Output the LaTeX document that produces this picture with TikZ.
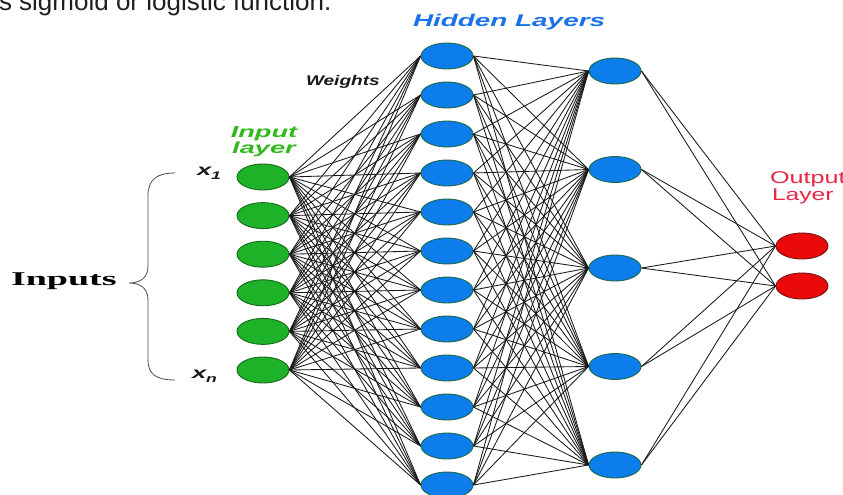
\documentclass[tikz,border=0pt]{standalone}
\usepackage{fontspec}
\setmainfont{Liberation Sans}
\newfontfamily\serifbold{Liberation Serif}
\usetikzlibrary{shapes.geometric}
\definecolor{ingreen}{RGB}{30,178,40}
\definecolor{ingreendark}{RGB}{20,105,25}
\definecolor{hidblue}{RGB}{12,125,235}
\definecolor{hidedge}{RGB}{30,105,70}
\definecolor{outred}{RGB}{235,10,10}
\definecolor{outreddark}{RGB}{115,20,20}
\definecolor{hidtext}{RGB}{25,115,230}
\definecolor{intext}{RGB}{50,185,30}
\definecolor{outtext}{RGB}{230,40,70}
\begin{document}
\begin{tikzpicture}[x=1pt,y=-1pt,
  neuron/.style={ellipse, minimum width=52pt, minimum height=26pt, inner sep=0pt, line width=0.9pt},
  innode/.style={neuron, fill=ingreen, draw=ingreendark},
  hidnode/.style={neuron, fill=hidblue, draw=hidedge},
  outnode/.style={neuron, fill=outred, draw=outreddark},
  wire/.style={line width=0.85pt, black!90},
  lbl/.style={inner sep=0pt, outer sep=0pt, anchor=base west},
  bracepath/.style={line width=0.8pt, black!70}]
\useasboundingbox (0,0) rectangle (843,495);
\fill[white] (0,0) rectangle (843,495);

% neurons
\foreach \k in {1,...,6}
  \node[innode] (i\k) at (263,{177+38.6*(\k-1)}) {};
\foreach \k in {1,...,12}
  \node[hidnode] (h\k) at (447,{56+39*(\k-1)}) {};
\foreach \k in {1,...,5}
  \node[hidnode] (g\k) at (615,{71+98.5*(\k-1)}) {};
\node[outnode] (o1) at (802,246) {};
\node[outnode] (o2) at (802,286) {};

% connections
\foreach \a in {1,...,6}
  \foreach \b in {1,...,12}
    \draw[wire] (i\a.east) -- (h\b.west);
\foreach \a in {1,...,12}
  \foreach \b in {1,...,5}
    \draw[wire] (h\a.east) -- (g\b.west);
\foreach \a in {1,...,5}
  \foreach \b in {1,2}
    \draw[wire] (g\a.east) -- (o\b.west);

% texts
\node[lbl, font=\fontsize{26}{30}\selectfont, text=black!88] (cap) at (-1,11) {s sigmoid or logistic function.};
\node[lbl, font=\fontsize{17}{19}\selectfont\bfseries\itshape, text=hidtext, xscale=1.64] (hl) at (413,27) {Hidden Layers};
\node[lbl, font=\fontsize{14}{16}\selectfont\bfseries\itshape, text=black!90, xscale=1.36] (wt) at (306,85) {Weights};
\node[inner sep=0pt, anchor=base, font=\fontsize{16}{17}\selectfont\bfseries\itshape, text=intext, xscale=1.7] (il1) at (264,137) {Input};
\node[inner sep=0pt, anchor=base, font=\fontsize{16}{17}\selectfont\bfseries\itshape, text=intext, xscale=1.7] (il2) at (264,153) {layer};
\node[lbl, font=\fontsize{16}{17}\selectfont\bfseries\itshape, text=black!90, xscale=1.6] (x1) at (197,175) {x\raisebox{-4pt}{\fontsize{11}{11}\selectfont 1}};
\node[lbl, font=\fontsize{16}{17}\selectfont\bfseries\itshape, text=black!90, xscale=1.6] (xn) at (192,378) {x\raisebox{-4pt}{\fontsize{11}{11}\selectfont n}};
\node[lbl, font=\fontsize{19.5}{21}\selectfont\serifbold\bfseries, text=black, xscale=1.95] (inp) at (11,285.5) {Inputs};
\node[lbl, font=\fontsize{17}{19}\selectfont, text=outtext, xscale=1.48] (ol1) at (770,183) {Output};
\node[lbl, font=\fontsize{17}{19}\selectfont, text=outtext, xscale=1.45] (ol2) at (772,200) {Layer};

% brace
\draw[bracepath] (175,173) .. controls (156,173) and (148,180) .. (148,196)
  -- (148,266) .. controls (148,278) and (140,283) .. (129,283)
  .. controls (140,283) and (148,288) .. (148,300)
  -- (148,360) .. controls (148,374) and (156,380) .. (175,380);
\end{tikzpicture}
\end{document}
